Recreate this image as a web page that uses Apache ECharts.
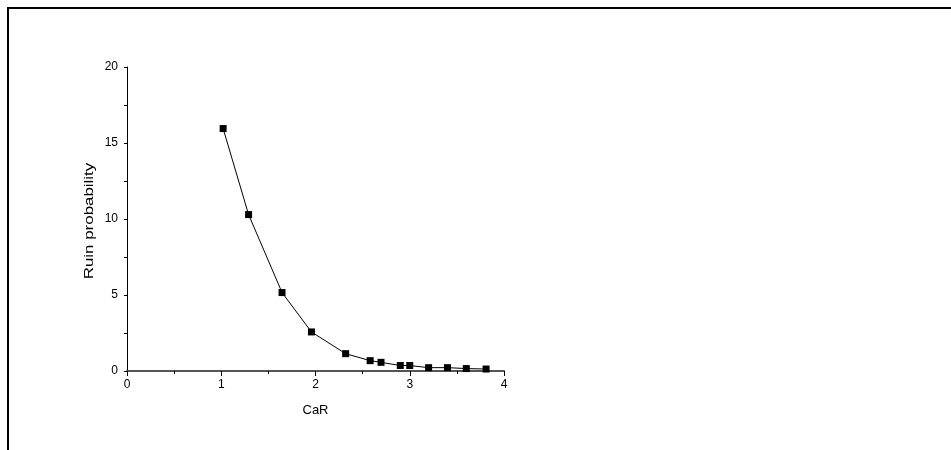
<!DOCTYPE html>
<html>
<head>
<meta charset="utf-8">
<script src="https://cdn.jsdelivr.net/npm/echarts@6/dist/echarts.min.js"></script>
<style>
  html, body { margin: 0; padding: 0; background: #fff; }
  #chart { width: 951px; height: 450px; }
</style>
</head>
<body>
<div id="chart"></div>
<script>
// values
var carValues = [1.02, 1.29, 1.645, 1.957, 2.32, 2.58, 2.695, 2.90, 3.00, 3.20, 3.40, 3.60, 3.81];
var ruinProb  = [15.95, 10.29, 5.16, 2.57, 1.14, 0.68, 0.57, 0.36, 0.36, 0.22, 0.22, 0.16, 0.13];
var yTitle = 'Ruin probability';

var points = [];
for (var i = 0; i < carValues.length; i++) {
    points.push([carValues[i], ruinProb[i]]);
}

var chart = echarts.init(document.getElementById('chart'));
var font = 'Liberation Sans, Arial, sans-serif';

chart.setOption({
    animation: false,
    backgroundColor: '#fff',
    grid: { left: 127, right: 447, top: 67, bottom: 79 },
    graphic: [{
        // outer frame (top and left edges only)
        type: 'polyline',
        shape: { points: [[8, 450], [8, 8], [951, 8]] },
        style: { stroke: '#000', lineWidth: 2, fill: null }
    }, {
        // y title is stretched along its length in the original
        type: 'text',
        x: 89, y: 221,
        rotation: Math.PI / 2,
        scaleX: 1.3,
        style: {
            text: yTitle,
            fontFamily: font, fontSize: 13, fill: '#000',
            align: 'center', verticalAlign: 'middle'
        }
    }],
    xAxis: {
        type: 'value',
        min: 0, max: 4, interval: 1,
        name: 'CaR',
        nameLocation: 'middle',
        nameGap: 33,
        nameTextStyle: { fontFamily: font, fontSize: 13, color: '#000' },
        axisLine: { show: true, onZero: false, lineStyle: { color: '#555', width: 2 } },
        axisTick: { show: true, inside: false, length: 5, lineStyle: { color: '#000' } },
        minorTick: { show: true, splitNumber: 2, length: 3, lineStyle: { color: '#000' } },
        axisLabel: { fontFamily: font, fontSize: 12, color: '#000', margin: 8 },
        splitLine: { show: false }
    },
    yAxis: {
        type: 'value',
        min: 0, max: 20, interval: 5,
        axisLine: { show: true, lineStyle: { color: '#000', width: 1 } },
        axisTick: { show: true, inside: false, length: 3, lineStyle: { color: '#000' } },
        minorTick: { show: true, splitNumber: 2, length: 3, lineStyle: { color: '#000' } },
        axisLabel: { fontFamily: font, fontSize: 12, color: '#000', margin: 9 },
        splitLine: { show: false }
    },
    series: [{
        type: 'line',
        data: points,
        symbol: 'rect',
        symbolSize: 7,
        itemStyle: { color: '#000' },
        lineStyle: { color: '#000', width: 1 }
    }]
});
</script>
</body>
</html>
